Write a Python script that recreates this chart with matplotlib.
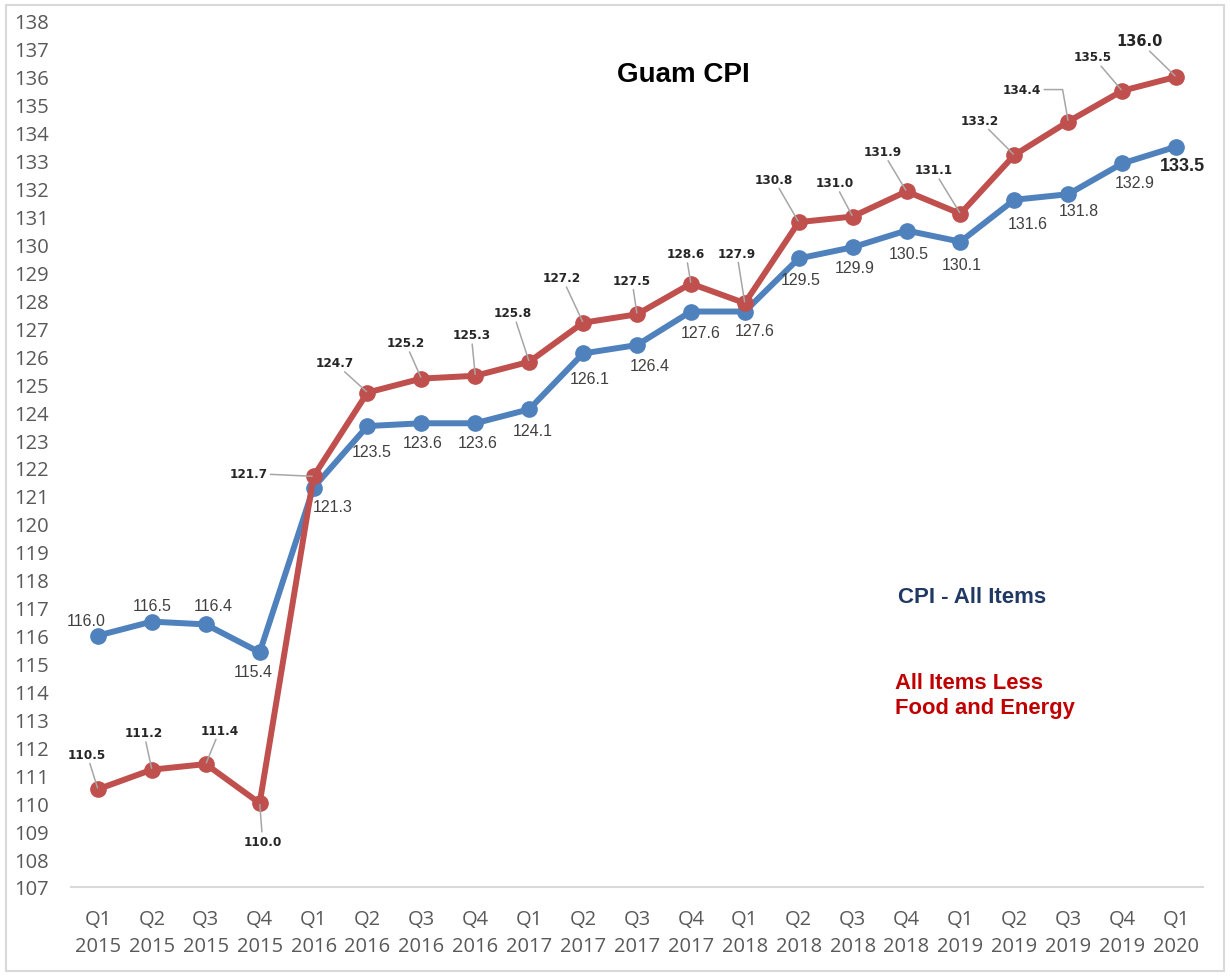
import matplotlib.pyplot as plt
from matplotlib.patches import Rectangle

# Data
quarters = ['Q1', 'Q2', 'Q3', 'Q4', 'Q1', 'Q2', 'Q3', 'Q4', 'Q1', 'Q2', 'Q3',
            'Q4', 'Q1', 'Q2', 'Q3', 'Q4', 'Q1', 'Q2', 'Q3', 'Q4', 'Q1']
years = ['2015'] * 4 + ['2016'] * 4 + ['2017'] * 4 + ['2018'] * 4 + ['2019'] * 4 + ['2020']
cpi_all = [116.0, 116.5, 116.4, 115.4, 121.3, 123.5, 123.6, 123.6, 124.1, 126.1, 126.4,
           127.6, 127.6, 129.5, 129.9, 130.5, 130.1, 131.6, 131.8, 132.9, 133.5]
cpi_core = [110.5, 111.2, 111.4, 110.0, 121.7, 124.7, 125.2, 125.3, 125.8, 127.2, 127.5,
            128.6, 127.9, 130.8, 131.0, 131.9, 131.1, 133.2, 134.4, 135.5, 136.0]

# label offsets in pixels (dx, dy up)
blue_off = [(-12, 15), (0, 16), (7, 19), (-6, -19), (19, -19), (4, -25), (1, -19), (2, -19),
            (4, -21), (7, -25), (13, -20), (10, -21), (10, -19), (2, -21), (2, -20), (2, -23),
            (1, -23), (13, -24), (11, -16), (13, -19), (6, -19)]
red_off = [(-11, 35), (-8, 37), (14, 34), (3, -38), (-65, 3), (-33, 30), (-16, 36), (-4, 41),
           (-16, 49), (-21, 45), (-5, 34), (-5, 30), (-8, 50), (-25, 43), (-18, 34), (-24, 40),
           (-27, 44), (-35, 35), (-46, 32), (-29, 34), (-37, 36)]

BLUE = '#4F81BD'
RED = '#C0504D'
SANS = ['Liberation Sans', 'DejaVu Sans']

W, H = 1230, 978
fig = plt.figure(figsize=(W / 100, H / 100), dpi=100)
ax = fig.add_axes([71 / W, 1 - 888 / H, (1203 - 71) / W, (888 - 22) / H])

x = list(range(len(cpi_all)))
ax.plot(x, cpi_all, color=BLUE, lw=4.3, marker='o', ms=11, solid_capstyle='round', zorder=3)
ax.plot(x, cpi_core, color=RED, lw=4.3, marker='o', ms=11, solid_capstyle='round', zorder=4)

for i, v in enumerate(cpi_all):
    last = i == len(cpi_all) - 1
    ax.annotate(f'{v:.1f}', (i, v), xytext=blue_off[i], textcoords='offset pixels',
                ha='center', va='center', family=SANS,
                fontsize=13 if last else 11.5, fontweight='bold' if last else 'normal',
                color='#262626' if last else '#404040', zorder=6)

for i, v in enumerate(cpi_core):
    last = i == len(cpi_core) - 1
    conn = 'angle,angleA=0,angleB=100,rad=0' if i == 18 else 'arc3'
    ax.annotate(f'{v:.1f}', (i, v), xytext=red_off[i], textcoords='offset pixels',
                ha='center', va='center', family='DejaVu Sans', fontweight='bold',
                fontsize=10.5 if last else 8.7, color='#262626', zorder=6,
                arrowprops=dict(arrowstyle='-', color='#A6A6A6', lw=1.1,
                                shrinkA=0, shrinkB=1, connectionstyle=conn))

ax.set_xlim(-0.5, len(x) - 0.5)
ax.set_ylim(107, 138)
ax.set_yticks(range(107, 139))
ax.set_xticks(x)
ax.set_xticklabels([f'{q}\n{y}' for q, y in zip(quarters, years)], linespacing=1.45)
ax.tick_params(axis='both', length=0, labelsize=14.5, labelcolor='#595959')
ax.tick_params(axis='y', pad=16)
ax.tick_params(axis='x', pad=16)
for lab in ax.get_xticklabels() + ax.get_yticklabels():
    lab.set_family('Open Sans')
for s in ['top', 'right', 'left']:
    ax.spines[s].set_visible(False)
ax.spines['bottom'].set_color('#D9D9D9')
ax.spines['bottom'].set_linewidth(1.5)

fig.text(683 / W, 1 - 75 / H, 'Guam CPI', ha='center', va='center', family=SANS,
         fontweight='bold', fontsize=20, color='black')
fig.text(898 / W, 1 - 598 / H, 'CPI - All Items', ha='left', va='center', family=SANS,
         fontweight='bold', fontsize=16, color='#1F3864')
fig.text(895 / W, 1 - 696 / H, 'All Items Less\nFood and Energy', ha='left', va='center',
         family=SANS, fontweight='bold', fontsize=15.8, color='#C00000', linespacing=1.2)

fig.patches.append(Rectangle((6 / W, 6 / H), 1 - 12 / W, 1 - 12 / H, transform=fig.transFigure,
                             fill=False, edgecolor='#D9D9D9', lw=1.5))

fig.savefig('out.png', dpi=100)
